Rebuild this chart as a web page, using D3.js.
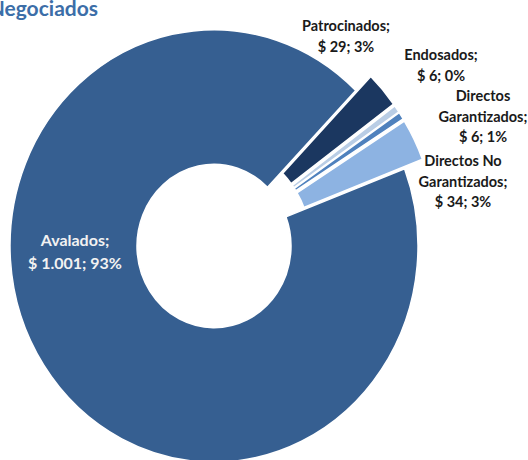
<!DOCTYPE html>
<html>
<head>
<meta charset="utf-8">
<script src="https://cdn.jsdelivr.net/npm/d3@7"></script>
<style>
  body { margin: 0; background: #fff; }
  svg { display: block; }
  .lbl { font-family: Lato, "Open Sans", sans-serif; font-weight: bold; }
</style>
</head>
<body>
<div id="chart"></div>
<script>
// Data
var categories = ["Patrocinados", "Endosados", "Directos Garantizados", "Directos No Garantizados", "Avalados"];
var values = [29, 6, 6, 34, 1001];
var amountLabels = ["$ 29", "$ 6", "$ 6", "$ 34", "$ 1.001"];
var percentLabels = ["3%", "0%", "1%", "3%", "93%"];
var title = "Negociados";

// layout
var svgWidth = 528;
var svgHeight = 460;
var cx = 214, cy = 246;
var outerR = 204, innerR = 77;
var yStretch = 1.06;
var explode = 20;

var colors = ["#1b3760", "#b9cde5", "#4f81bd", "#8db3e2", "#365f91"];
// label line breaks and anchors (center of first line)
var labelBreaks = [["Patrocinados;"], ["Endosados;"], ["Directos", "Garantizados;"], ["Directos No", "Garantizados;"], ["Avalados;"]];
var labelPos = [[346, 26], [441, 55], [483, 96], [463, 161], [75, 240]];
var labelColor = ["#1a1a1a", "#1a1a1a", "#1a1a1a", "#1a1a1a", "#f2f2f2"];
var labelSize = [14.5, 14.5, 14.5, 14.5, 16];
var labelLineH = [20.5, 20.5, 20.5, 20.5, 23];

var svg = d3.select("#chart")
  .append("svg")
  .attr("width", svgWidth)
  .attr("height", svgHeight);

var pie = d3.pie()
  .sort(null)
  .value(d => d)
  .startAngle(44 * Math.PI / 180)
  .endAngle(44 * Math.PI / 180 + 2 * Math.PI);

var arc = d3.arc()
  .innerRadius(innerR)
  .outerRadius(outerR);

var arcs = pie(values);

var pieGroup = svg.append("g")
  .attr("transform", `translate(${cx}, ${cy}) scale(1, ${yStretch})`);

pieGroup.selectAll("path")
  .data(arcs)
  .enter()
  .append("path")
  .attr("d", arc)
  .attr("fill", (d, i) => colors[i])
  .attr("stroke", "#fff")
  .attr("stroke-width", 1.5)
  .attr("transform", function (d, i) {
    if (i === 4) return null;
    var mid = (d.startAngle + d.endAngle) / 2;
    return `translate(${explode * Math.sin(mid)}, ${-explode * Math.cos(mid)})`;
  });

// Labels
arcs.forEach(function (d, i) {
  var lines = labelBreaks[i].concat([amountLabels[i] + "; " + percentLabels[i]]);
  var t = svg.append("text")
    .attr("class", "lbl")
    .attr("text-anchor", "middle")
    .style("font-size", labelSize[i] + "px")
    .attr("fill", labelColor[i]);
  lines.forEach(function (ln, j) {
    t.append("tspan")
      .attr("x", labelPos[i][0])
      .attr("y", labelPos[i][1] + j * labelLineH[i])
      .attr("dy", "0.35em")
      .text(ln);
  });
});

// Title (cut at the left edge, as in the original)
svg.append("text")
  .attr("x", 98)
  .attr("y", 16)
  .attr("text-anchor", "end")
  .attr("fill", "#3c6ea8")
  .style("font-family", "Lato, 'Open Sans', sans-serif")
  .style("font-weight", "bold")
  .style("font-size", "21px")
  .text(title);
</script>
</body>
</html>
